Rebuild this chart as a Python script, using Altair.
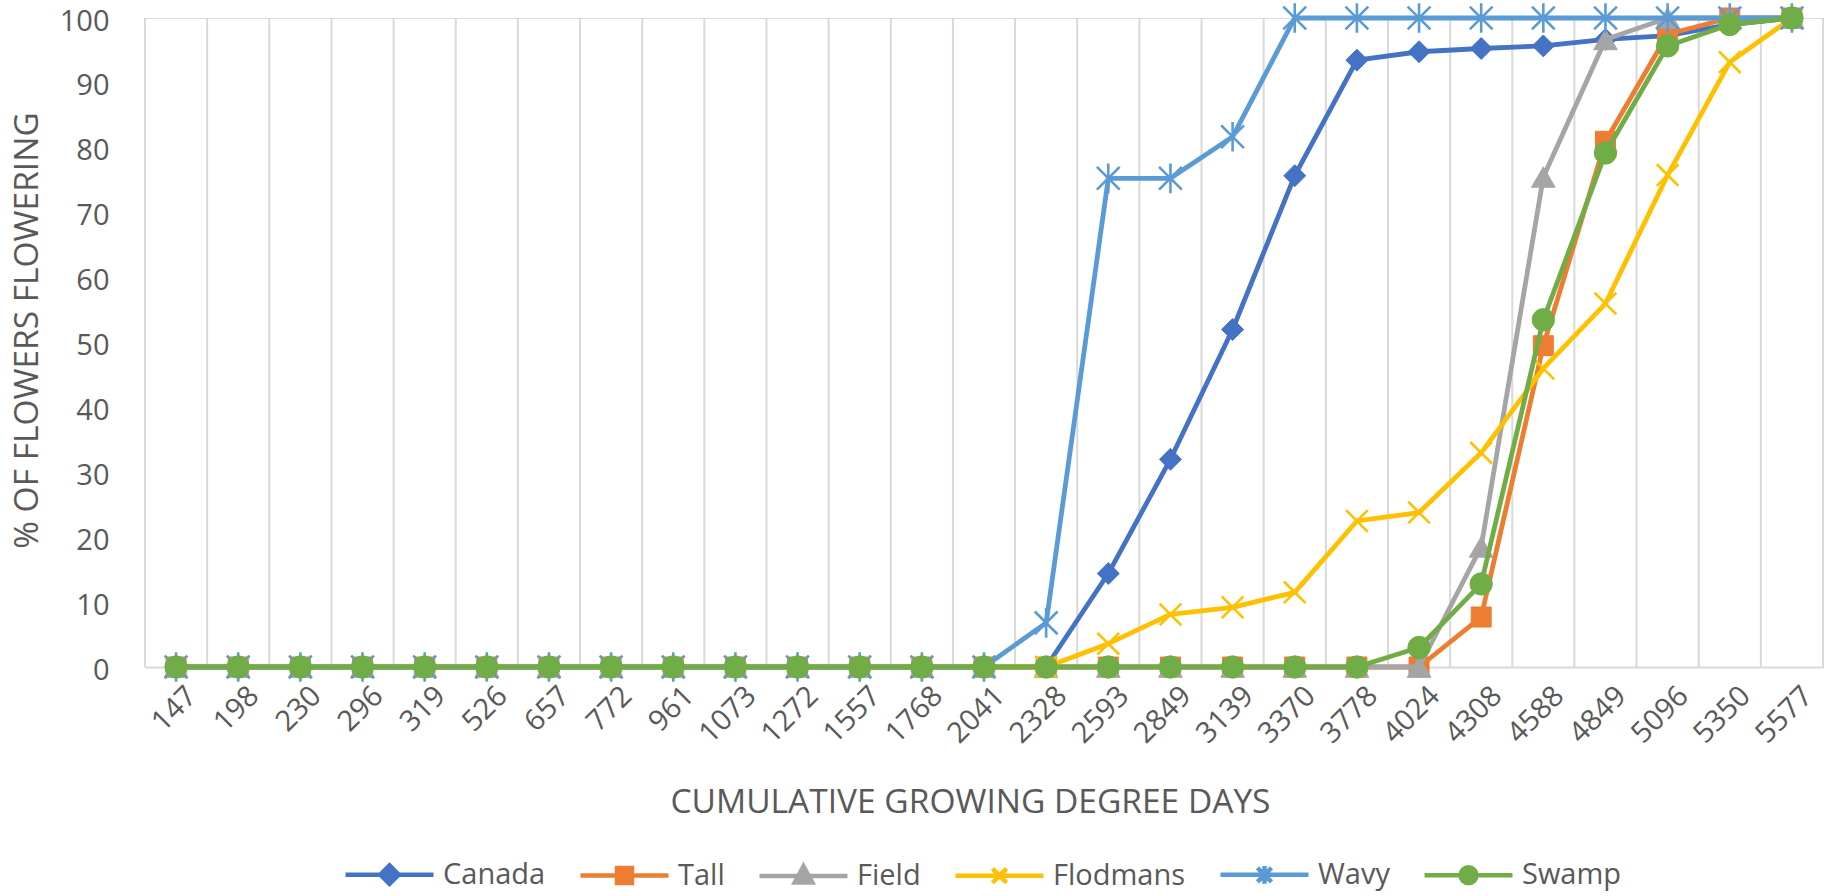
import math
import altair as alt
import pandas as pd

# Cumulative growing degree days (category axis)
gdd = ["147", "198", "230", "296", "319", "526", "657", "772", "961", "1073",
       "1272", "1557", "1768", "2041", "2328", "2593", "2849", "3139", "3370",
       "3778", "4024", "4308", "4588", "4849", "5096", "5350", "5577"]

series = ["Canada", "Tall", "Field", "Flodmans", "Wavy", "Swamp"]

# % of flowers flowering per species at each GDD value
canada = [0, 0, 0, 0, 0, 0, 0, 0, 0, 0, 0, 0, 0, 0, 0,
          14.4, 32, 52, 75.7, 93.5, 94.8, 95.3, 95.7, 96.7, 97.3, 99, 100]
tall = [0, 0, 0, 0, 0, 0, 0, 0, 0, 0, 0, 0, 0, 0, 0,
        0, 0, 0, 0, 0, 0, 7.7, 49.5, 81, 97.5, 100, 100]
field = [0, 0, 0, 0, 0, 0, 0, 0, 0, 0, 0, 0, 0, 0, 0,
         0, 0, 0, 0, 0, 0, 18.5, 75.5, 96.7, 100, 100, 100]
flodmans = [0, 0, 0, 0, 0, 0, 0, 0, 0, 0, 0, 0, 0, 0, 0,
            3.6, 8.1, 9.2, 11.5, 22.5, 23.8, 33, 46, 56, 75.8, 93.2, 100]
wavy = [0, 0, 0, 0, 0, 0, 0, 0, 0, 0, 0, 0, 0, 0, 6.8,
        75.3, 75.3, 81.7, 100, 100, 100, 100, 100, 100, 100, 100, 100]
swamp = [0, 0, 0, 0, 0, 0, 0, 0, 0, 0, 0, 0, 0, 0, 0,
         0, 0, 0, 0, 0, 3, 12.8, 53.5, 79.2, 95.7, 99, 100]

values = [canada, tall, field, flodmans, wavy, swamp]
colors = ["#4472C4", "#ED7D31", "#A5A5A5", "#FFC000", "#5B9BD5", "#70AD47"]

rows = []
for name, vals in zip(series, values):
    for g, v in zip(gdd, vals):
        rows.append({"series": name, "gdd": g, "pct": v})
df = pd.DataFrame(rows)
cats = pd.DataFrame({"gdd": gdd})

FONT = "Open Sans"
TXT = "#595959"
GRID = "#d9d9d9"
FS = 29      # tick labels
TFS = 33.5   # axis titles

x_scale = alt.Scale(type="band", domain=gdd, paddingInner=0, paddingOuter=0)
y_scale = alt.Scale(domain=[0, 100], nice=False, zero=True)

x_axis = alt.Axis(
    title="CUMULATIVE GROWING DEGREE DAYS", labelAngle=-45, ticks=False,
    grid=False, domain=True, domainColor=GRID, domainWidth=2,
    labelFont=FONT, labelFontSize=FS, labelColor=TXT, labelPadding=14,
    labelOffset=6,
    titleFont=FONT, titleFontSize=TFS, titleColor=TXT, titleFontWeight="normal",
    titlePadding=38, titleX=825, labelOverlap=False,
)
y_axis = alt.Axis(
    title="% OF FLOWERS FLOWERING", values=list(range(0, 101, 10)),
    grid=False, ticks=False, domain=False,
    labelFont=FONT, labelFontSize=FS, labelColor=TXT, labelPadding=36,
    labelOffset=3,
    titleFont=FONT, titleFontSize=TFS, titleColor=TXT, titleFontWeight="normal",
    titlePadding=15, titleY=312,
)


def X(band=0.5):
    return alt.X("gdd:O", sort=gdd, scale=x_scale, axis=x_axis, bandPosition=band)


def Y(field="pct"):
    return alt.Y(f"{field}:Q", scale=y_scale, axis=y_axis)


# vertical gridlines at category boundaries
grid = alt.Chart(cats).transform_calculate(lo="0", hi="100").mark_rule(
    color=GRID, strokeWidth=2
).encode(x=X(0), y=Y("lo"), y2="hi:Q")
grid_end = alt.Chart(cats).transform_filter(
    alt.datum.gdd == gdd[-1]
).transform_calculate(lo="0", hi="100").mark_rule(
    color=GRID, strokeWidth=2
).encode(x=X(1), y=Y("lo"), y2="hi:Q")

# marker style per series: shape, filled, size
marker = {
    "Canada": ("diamond", True, 480),
    "Tall": ("square", True, 400),
    "Field": ("triangle-up", True, 560),
    "Flodmans": ("M-1,-1L1,1M1,-1L-1,1", False, 470),
    "Wavy": ("M-1,-1L1,1M1,-1L-1,1M0,-1.3L0,1.3", False, 520),
    "Swamp": ("circle", True, 500),
}

# each series: its line, then its markers on top
series_layers = []
for name, col in zip(series, colors):
    shp, filled, size = marker[name]
    line = alt.Chart(df).transform_filter(alt.datum.series == name).mark_line(
        color=col, strokeWidth=4.8, strokeJoin="round"
    ).encode(x=X(), y=Y())
    if filled:
        mk = alt.Chart(df).mark_point(shape=shp, filled=True, size=size,
                                      fill=col, stroke=col, strokeWidth=1,
                                      opacity=1)
    else:
        mk = alt.Chart(df).mark_point(shape=shp, filled=False, size=size,
                                      stroke=col, strokeWidth=2.6, opacity=1)
    pts = mk.transform_filter(alt.datum.series == name).encode(x=X(), y=Y())
    series_layers += [line, pts]

# legend symbols: a line segment with the series marker in its middle
ring = "M" + "L".join(
    f"{0.18 * math.cos(math.pi * k / 8):.3f},{0.18 * math.sin(math.pi * k / 8):.3f}"
    for k in range(16)
) + "Z"
seg = "M-1,0L1,0"
legend_paths = [
    seg + "M0,-0.21L0.21,0L0,0.21L-0.21,0Z",
    seg + "M-0.17,-0.17L0.17,-0.17L0.17,0.17L-0.17,0.17Z",
    seg + "M0,-0.22L0.2,0.15L-0.2,0.15Z",
    seg + "M-0.16,-0.16L0.16,0.16M0.16,-0.16L-0.16,0.16",
    seg + "M-0.16,-0.16L0.16,0.16M0.16,-0.16L-0.16,0.16M0,-0.2L0,0.2",
    seg + ring,
]
leg = alt.Legend(
    title=None, orient="none", direction="horizontal",
    legendX=198, legendY=810,
    labelFont=FONT, labelFontSize=29, labelColor=TXT, labelOffset=7,
    symbolSize=7744, symbolStrokeWidth=4.5, symbolOpacity=1,
    columnPadding=25,
)
# carrier layer that only supplies the legend (its own marks are transparent)
legend_layer = alt.Chart(df).mark_point(
    filled=True, size=20, strokeWidth=4.5, opacity=0
).encode(
    x=X(), y=Y(),
    fill=alt.Fill("series:N", scale=alt.Scale(domain=series, range=colors), legend=leg),
    stroke=alt.Stroke("series:N", scale=alt.Scale(domain=series, range=colors), legend=leg),
    shape=alt.Shape("series:N", scale=alt.Scale(domain=series, range=legend_paths), legend=leg),
)

chart = alt.layer(grid, grid_end, *series_layers, legend_layer).properties(
    width=1678, height=649,
    autosize=alt.AutoSizeParams(type="none"),
    padding={"left": 145, "top": 18, "right": 5, "bottom": 229},
).configure_view(stroke=None).configure(background="white")

chart.save("out.html", embed_options={"renderer": "svg", "actions": False})
